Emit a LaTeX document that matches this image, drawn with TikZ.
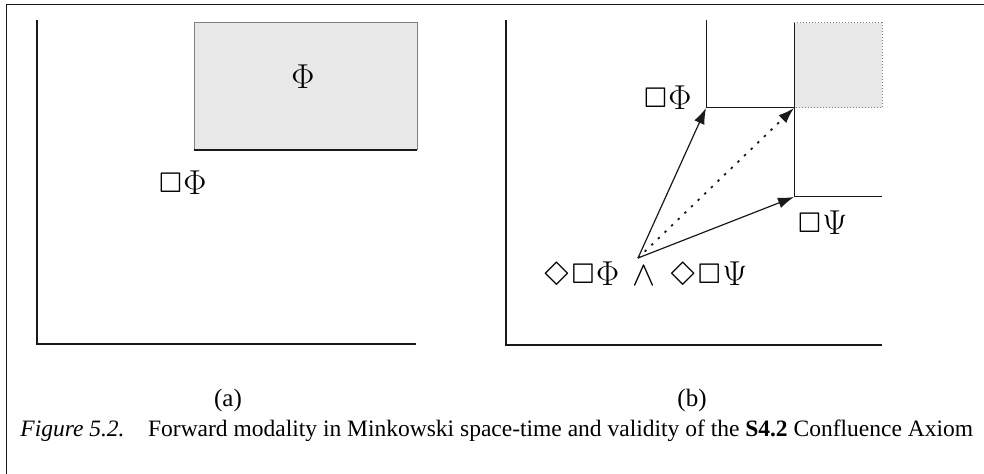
\documentclass[tikz,border=0pt]{standalone}
\usepackage{latexsym}
\usepackage{fontspec}
\setmainfont{Liberation Serif}
\usetikzlibrary{positioning,arrows.meta}
\definecolor{ink}{gray}{0.10}
\definecolor{soft}{gray}{0.50}
\definecolor{stipple}{gray}{0.91}
\tikzset{
  axis/.style={draw=ink, line width=0.8pt},
  rim/.style={draw=ink, line width=0.5pt},
  edge/.style={draw=soft, line width=0.5pt},
  fwd/.style={-{Latex[length=8pt,width=5.5pt]}, draw=ink, line width=0.6pt},
  lbl/.style={font=\fontsize{16}{18}\selectfont, inner sep=0pt},
  sub/.style={font=\fontsize{12.5}{14}\selectfont, inner sep=0pt},
}

\begin{document}
\begin{tikzpicture}[x=0.5pt, y=-0.5pt]
        \useasboundingbox (0,0) rectangle (984,474);
        \draw[rim] (6,474) -- (6,5) -- (984,5);
        \coordinate (aTop) at (37,20);
        \coordinate (aO) at (37,344);
        \coordinate (aEnd) at (416,344);
        \draw[axis] (aTop) -- (aO) -- (aEnd);
        \filldraw[fill=stipple, edge] (194,23) rectangle (417,150);
        \draw[axis] (194,150) -- (417,150);
        \node[lbl] (phi) at (303,77) {$\Phi$};
        \node[lbl] (boxphiA) at (182,183) {$\Box\Phi$};
        \node[sub] (capA) at (228,400) {(a)};
        \coordinate (bTop) at (506,20);
        \coordinate (bO) at (506,345);
        \coordinate (bEnd) at (882,345);
        \draw[axis] (bTop) -- (bO) -- (bEnd);
        \coordinate (p) at (706,108);
        \coordinate (r) at (794,108);
        \coordinate (q) at (794,197);
        \coordinate (s) at (638,258);
        \fill[stipple] (r) rectangle (882,23);
        \draw[edge, densely dotted] (794,23) -- (882,23) -- (882,108) -- (r);
        \draw[rim] (706,20) -- (p) -- (r);
        \draw[rim] (794,23) -- (q) -- (882,197);
        \draw[fwd] (s) -- (p);
        \draw[fwd] (s) -- (q);
        \draw[fwd, dash pattern=on 1.2pt off 3.4pt, line width=0.9pt] (s) -- (r);
        \node[lbl] (boxphiB) at (667,98) {$\Box\Phi$};
        \node[lbl] (boxpsi) at (822,223) {$\Box\Psi$};
        \node[lbl] (conf) at (645,274) {$\Diamond\Box\Phi\,\wedge\,\Diamond\Box\Psi$};
        \node[sub] (capB) at (692,400) {(b)};
        \node[font=\fontsize{11.75}{14}\selectfont, anchor=west, inner sep=0pt] (cap) at (20,431)
          {\textit{Figure 5.2.}\quad Forward modality in Minkowski space-time and validity of the \textbf{S4.2} Confluence Axiom};
      \end{tikzpicture}
\end{document}
